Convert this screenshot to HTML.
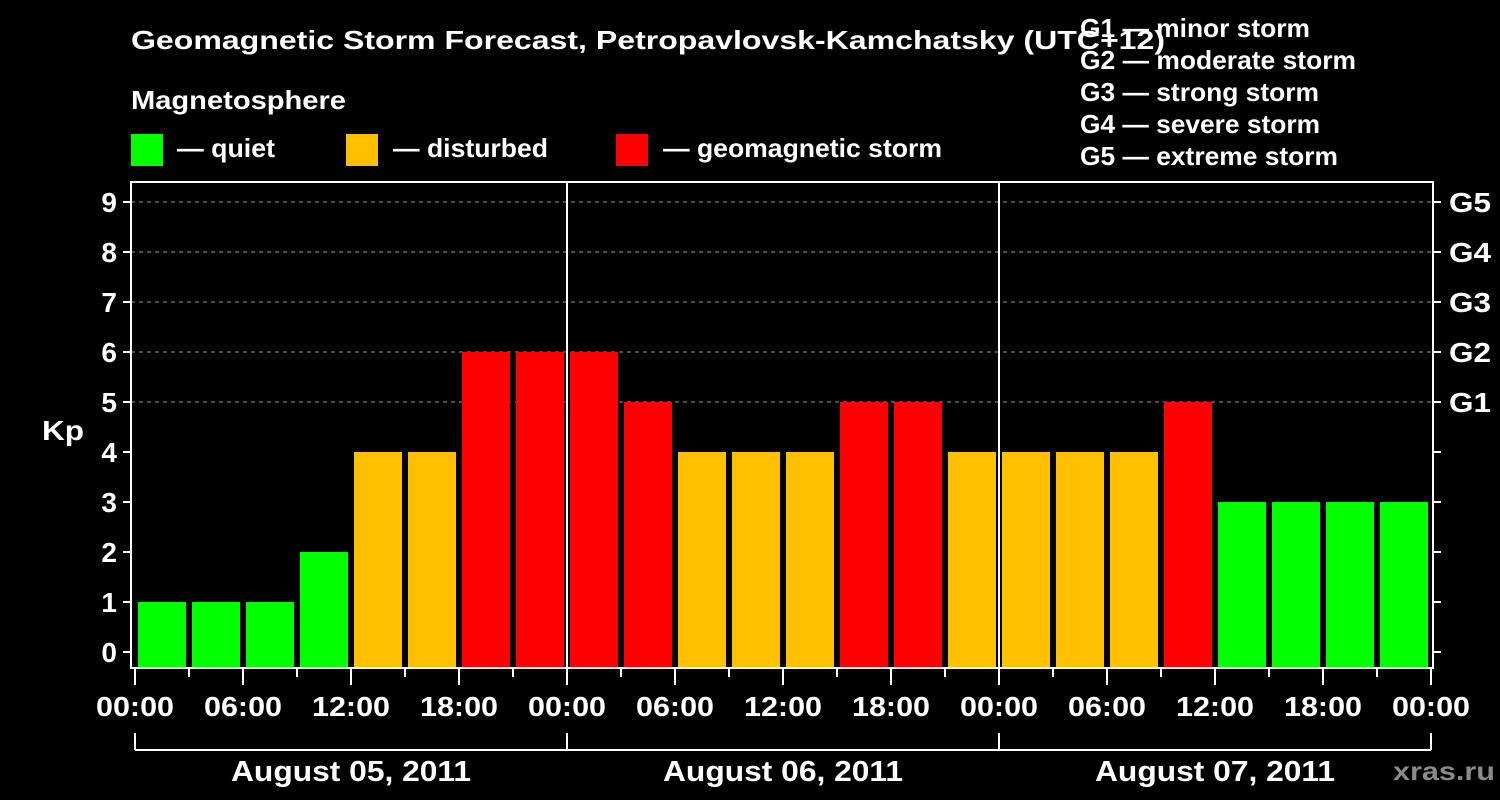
<!DOCTYPE html>
<html><head><meta charset="utf-8"><style>
html,body{margin:0;padding:0;background:#000;width:1500px;height:800px;overflow:hidden}
svg text{font-family:"Liberation Sans",Arial,sans-serif;font-weight:bold;fill:#fff}
</style></head><body>
<svg id="chart" width="1500" height="800" xmlns="http://www.w3.org/2000/svg">
<text x="131" y="49" font-size="26" textLength="1034" lengthAdjust="spacingAndGlyphs">Geomagnetic Storm Forecast, Petropavlovsk-Kamchatsky (UTC+12)</text>
<text x="131" y="109" font-size="26" textLength="215" lengthAdjust="spacingAndGlyphs">Magnetosphere</text>
<rect x="131" y="134" width="32" height="32" fill="#00ff00"/>
<text x="177" y="157" font-size="26" textLength="98" lengthAdjust="spacingAndGlyphs">— quiet</text>
<rect x="346" y="134" width="32" height="32" fill="#ffc000"/>
<text x="393" y="157" font-size="26" textLength="155" lengthAdjust="spacingAndGlyphs">— disturbed</text>
<rect x="616" y="134" width="32" height="32" fill="#ff0000"/>
<text x="663" y="157" font-size="26" textLength="279" lengthAdjust="spacingAndGlyphs">— geomagnetic storm</text>
<g font-size="26">
<text x="1080" y="37" textLength="230" lengthAdjust="spacingAndGlyphs">G1 — minor storm</text>
<text x="1080" y="69" textLength="276" lengthAdjust="spacingAndGlyphs">G2 — moderate storm</text>
<text x="1080" y="101" textLength="239" lengthAdjust="spacingAndGlyphs">G3 — strong storm</text>
<text x="1080" y="133" textLength="240" lengthAdjust="spacingAndGlyphs">G4 — severe storm</text>
<text x="1080" y="165" textLength="258" lengthAdjust="spacingAndGlyphs">G5 — extreme storm</text>
</g>
<text x="42" y="440" font-size="28" textLength="42" lengthAdjust="spacingAndGlyphs">Kp</text>
<text x="1393" y="780" font-size="26" textLength="102" lengthAdjust="spacingAndGlyphs" style="fill:#8a8a8a">xras.ru</text>
<g id="grid"></g><g id="bars"></g><g id="axes"></g>
</svg>
<script>
const kpValues=[1,1,1,2,4,4,6,6, 6,5,4,4,4,5,5,4, 4,4,4,5,3,3,3,3];
const yTicks=[0,1,2,3,4,5,6,7,8,9];
const gLabels=["G1","G2","G3","G4","G5"];
const gLevels=[5,6,7,8,9];
const xTickLabels=["00:00","06:00","12:00","18:00","00:00","06:00","12:00","18:00","00:00","06:00","12:00","18:00","00:00"];
const dayLabels=["August 05, 2011","August 06, 2011","August 07, 2011"];
const NS="http://www.w3.org/2000/svg";
const L=131,R=1433,T=182,B=668,X0=135,SLOT=54;
const yS=v=>652-50*v;
const xS=i=>X0+i*SLOT;
function mk(tag,attrs,parent,text){const e=document.createElementNS(NS,tag);for(const k in attrs)e.setAttribute(k,attrs[k]);if(text!==undefined)e.textContent=text;parent.appendChild(e);return e;}
const grid=document.getElementById('grid'),bars=document.getElementById('bars'),axes=document.getElementById('axes');
gLevels.forEach((v,i)=>{
 const l=mk('line',{x1:L,x2:R,y1:yS(v),y2:yS(v),stroke:'#999','stroke-dasharray':'4 4','stroke-width':1},grid);
 
 
 const t=mk('text',{x:1449,y:yS(v)+10,'font-size':28,textLength:42,lengthAdjust:'spacingAndGlyphs'},axes,gLabels[i]);
 
 
});
kpValues.forEach((v,i)=>{
 const c=v>=5?'#ff0000':(v>=4?'#ffc000':'#00ff00');
 const r=mk('rect',{x:xS(i)+3,y:yS(v),width:48,height:B-yS(v),fill:c},bars);
 
 
});
const fr=mk('rect',{x:L,y:T,width:R-L,height:B-T,fill:'none',stroke:'#fff','stroke-width':2},axes);


for(let d=1;d<3;d++){const l=mk('line',{x1:xS(d*8),x2:xS(d*8),y1:T,y2:B,stroke:'#fff','stroke-width':2},axes);
 
 }
yTicks.forEach(v=>{
 mk('line',{x1:L-8,x2:L,y1:yS(v),y2:yS(v),stroke:'#fff','stroke-width':2},axes);
 mk('line',{x1:R,x2:R+8,y1:yS(v),y2:yS(v),stroke:'#fff','stroke-width':2},axes);
 const t=mk('text',{x:L-14,y:yS(v)+10,'font-size':28,'text-anchor':'end'},axes,String(v));
 
 
});
for(let i=0;i<=24;i++){
 const maj=i%2===0;
 mk('line',{x1:xS(i),x2:xS(i),y1:B,y2:maj?685:677,stroke:'#fff','stroke-width':2},axes);
 if(maj){const t=mk('text',{x:xS(i)-39,y:716,'font-size':28,textLength:78,lengthAdjust:'spacingAndGlyphs'},axes,xTickLabels[i/2]);
 
 }
}
mk('line',{x1:xS(0),x2:xS(24),y1:750,y2:750,stroke:'#fff','stroke-width':2},axes);
for(let d=0;d<=3;d++)mk('line',{x1:xS(d*8),x2:xS(d*8),y1:733,y2:750,stroke:'#fff','stroke-width':2},axes);
dayLabels.forEach((s,d)=>{const t=mk('text',{x:xS(d*8+4)-120,y:781,'font-size':29,textLength:240,lengthAdjust:'spacingAndGlyphs'},axes,s);
 
 });
</script>
</body></html>
